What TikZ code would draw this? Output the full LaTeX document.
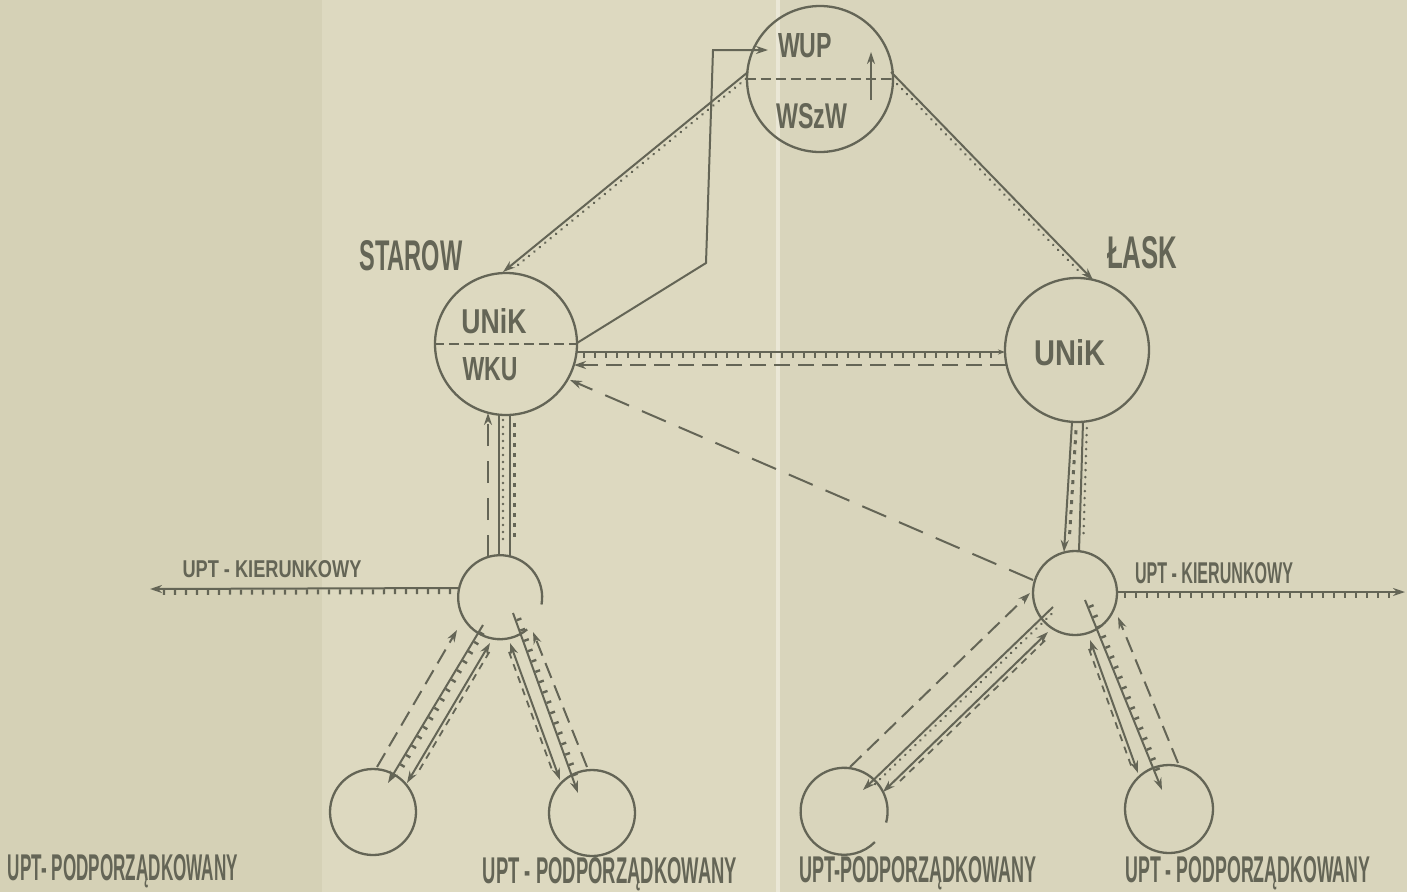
\documentclass[tikz,border=0pt]{standalone}
\usepackage{fontspec}
\usepackage{graphicx}
\usetikzlibrary{arrows.meta,decorations.markings,calc}
\newfontfamily\lblfont{Liberation Sans}
\definecolor{ink}{RGB}{100,101,86}
\definecolor{paperL}{RGB}{213,209,182}
\definecolor{paperM}{RGB}{221,217,192}
\definecolor{paperR}{RGB}{217,213,188}
\definecolor{fold}{RGB}{234,231,214}
\newcommand{\lbl}[3]{\resizebox{#1pt}{#2pt}{\lblfont\bfseries #3}}
\begin{document}
\begin{tikzpicture}[x=1pt,y=-1pt,
  >={Stealth[length=12pt,width=8pt]},
  stn/.style={circle,draw=ink,line width=2.3pt,inner sep=0pt,minimum size=#1pt},
  lab/.style={text=ink,inner sep=0pt,anchor=base},
  base/.style={draw=ink,line width=2pt},
  dsh/.style={base,dash pattern=on 16pt off 8pt},
  vdsh/.style={base,dash pattern=on 22pt off 15pt},
  longdsh/.style={base,dash pattern=on 26pt off 14pt},
  indsh/.style={draw=ink,line width=2.2pt,dash pattern=on 10pt off 5pt},
  tickL/.style={postaction={decorate},decoration={markings,mark=between positions 8pt and -12pt step 11pt with {\draw[-,ink,line width=2.4pt] (0pt,1pt)--(0pt,6pt);}}},
  tickR/.style={postaction={decorate},decoration={markings,mark=between positions 8pt and -12pt step 11pt with {\draw[-,ink,line width=2.4pt] (0pt,-1pt)--(0pt,-6pt);}}},
  dotL/.style={postaction={decorate},decoration={markings,mark=between positions 6pt and -12pt step 7pt with {\fill[ink] (0pt,4pt) circle (1.4pt);}}},
  dotR/.style={postaction={decorate},decoration={markings,mark=between positions 6pt and -12pt step 7pt with {\fill[ink] (0pt,-4pt) circle (1.4pt);}}},
  dashL/.style={postaction={decorate},decoration={markings,mark=between positions 8pt and -16pt step 13pt with {\draw[-,ink,line width=1.8pt] (0pt,4pt)--(7pt,4pt);}}},
  dashR/.style={postaction={decorate},decoration={markings,mark=between positions 8pt and -16pt step 13pt with {\draw[-,ink,line width=1.8pt] (0pt,-4pt)--(7pt,-4pt);}}},
  blobL/.style={postaction={decorate},decoration={markings,mark=between positions 8pt and -16pt step 10pt with {\draw[-,ink,line width=3pt] (0pt,4.5pt)--(4pt,4.5pt);}}}
]
\useasboundingbox (0,0) rectangle (1407,892);
% paper
\fill[paperL] (0,0) rectangle (322,892);
\fill[paperM] (322,0) rectangle (778,892);
\fill[paperR] (778,0) rectangle (1407,892);
\fill[fold] (776,0) rectangle (780,892);

% stations
\node[stn=146] (wup) at (820,79) {};
\node[stn=142] (star) at (506,344) {};
\node[stn=144] (lask) at (1077,350) {};
\node[stn=84,draw=none] (lm) at (499,597) {};
\draw[draw=ink,line width=2.3pt] (lm.-10) arc[start angle=-10,end angle=310,radius=42pt];
\node[stn=84] (rm) at (1075,593) {};
\node[stn=86] (b1) at (373,812) {};
\node[stn=86] (b2) at (592,813) {};
\node[stn=87,draw=none] (b3) at (843,811) {};
\draw[draw=ink,line width=2.3pt] (b3.-15) arc[start angle=-15,end angle=315,radius=43.5pt];
\node[stn=88] (b4) at (1169,809) {};

% dividing lines inside circles
\draw[indsh] (wup.180) -- (wup.0);
\draw[draw=ink,line width=2.2pt,->] ($(wup)+(51,21)$) -- ($(wup)+(51,-27)$);
\draw[indsh] (star.180) -- (star.0);

% labels
\node[lab] (tWUP) at (805,57) {\lbl{54}{24}{WUP}};
\node[lab] (tWSZW) at (812,128) {\lbl{71}{25}{WSzW}};
\node[lab] (tUNIK1) at (494,333) {\lbl{65}{25}{UNiK}};
\node[lab] (tWKU) at (490,380) {\lbl{55}{23}{WKU}};
\node[lab] (tSTAROW) at (411,270) {\lbl{103}{30}{STAROW}};
\node[lab] (tLASK) at (1142,268) {\lbl{70}{32}{ŁASK}};
\node[lab] (tUNIK2) at (1070,365) {\lbl{71}{26}{UNiK}};
\node[lab] (tKL) at (272,577) {\lbl{179}{17}{UPT - KIERUNKOWY}};
\node[lab] (tKR) at (1214,583) {\lbl{158}{21}{UPT - KIERUNKOWY}};
\node[lab] (tP1) at (123,880) {\lbl{230}{26}{UPT- PODPORZĄDKOWANY}};
\node[lab] (tP2) at (610,883) {\lbl{254}{26}{UPT - PODPORZĄDKOWANY}};
\node[lab] (tP3) at (918,882) {\lbl{237}{26}{UPT-PODPORZĄDKOWANY}};
\node[lab] (tP4) at (1248,882) {\lbl{245}{26}{UPT - PODPORZĄDKOWANY}};

% top connections
\draw[base,dotL,->] ($(wup)+(-72,-7)$) -- ($(star)+(-3,-72)$);
\draw[base,dotR,->] ($(wup)+(71,-7)$) -- ($(lask)+(16,-70)$);
\coordinate (k1) at (706,263);
\coordinate (k2) at (713,50);
\draw[base,->] ($(star)+(71,-1)$) -- (k1) -- (k2) -- ($(wup)+(-52,-29)$);

% STAROW - LASK
\draw[base,tickR,-{Stealth[length=7pt,width=5pt]}] ($(star)+(70,8)$) -- ($(lask)+(-72,2)$);
\draw[dsh,->] ($(lask)+(-71,15)$) -- ($(star)+(68,21)$);
\draw[longdsh,->] ($(rm)+(-42,-13)$) -- ($(star)+(64,36)$);

% STAROW - left UPT
\draw[vdsh,->] ($(lm)+(-11,-40)$) -- ($(star)+(-18,69)$);
\draw[base,dotL] ($(star)+(-7,70)$) -- ($(lm)+(0,-42)$);
\draw[base,blobL] ($(star)+(4,71)$) -- ($(lm)+(11,-41)$);

% LASK - right UPT
\draw[base,blobL,->] ($(lask)+(-5,72)$) -- ($(rm)+(-11,-41)$);
\draw[base,dotL] ($(lask)+(6,72)$) -- ($(rm)+(4,-42)$);

% kierunkowy
\coordinate (kl) at (150,589);
\draw[base,tickL,->] ($(lm)+(-41,-9)$) -- (kl);
\coordinate (kr) at (1405,592);
\draw[base,tickR,->] ($(rm)+(42,-1)$) -- (kr);

% left subordinate
\draw[dsh,->] ($(b1)+(4,-45)$) -- ($(lm)+(-42,33)$);
\draw[base,tickL,->] ($(lm)+(-16,28)$) -- ($(b1)+(15,-29)$);
\draw[base,dashL,<->] ($(lm)+(-9,46)$) -- ($(b1)+(34,-29)$);
\draw[base,dashR,<->] ($(lm)+(11,46)$) -- ($(b2)+(-32,-33)$);
\draw[base,tickL,->] ($(lm)+(14,16)$) -- ($(b2)+(-14,-20)$);
\draw[dsh,->] ($(b2)+(-5,-46)$) -- ($(lm)+(34,35)$);

% right subordinate
\draw[dsh,->] ($(b3)+(7,-44)$) -- ($(rm)+(-45,0)$);
\draw[base,dotL,->] ($(rm)+(-22,14)$) -- ($(b3)+(20,-21)$);
\draw[base,dashL,<->] ($(rm)+(-27,39)$) -- ($(b3)+(40,-19)$);
\draw[base,dashR,<->] ($(rm)+(15,47)$) -- ($(b4)+(-31,-36)$);
\draw[base,tickL,->] ($(rm)+(10,7)$) -- ($(b4)+(-7,-19)$);
\draw[dsh,->] ($(b4)+(9,-46)$) -- ($(rm)+(43,24)$);
\end{tikzpicture}
\end{document}
